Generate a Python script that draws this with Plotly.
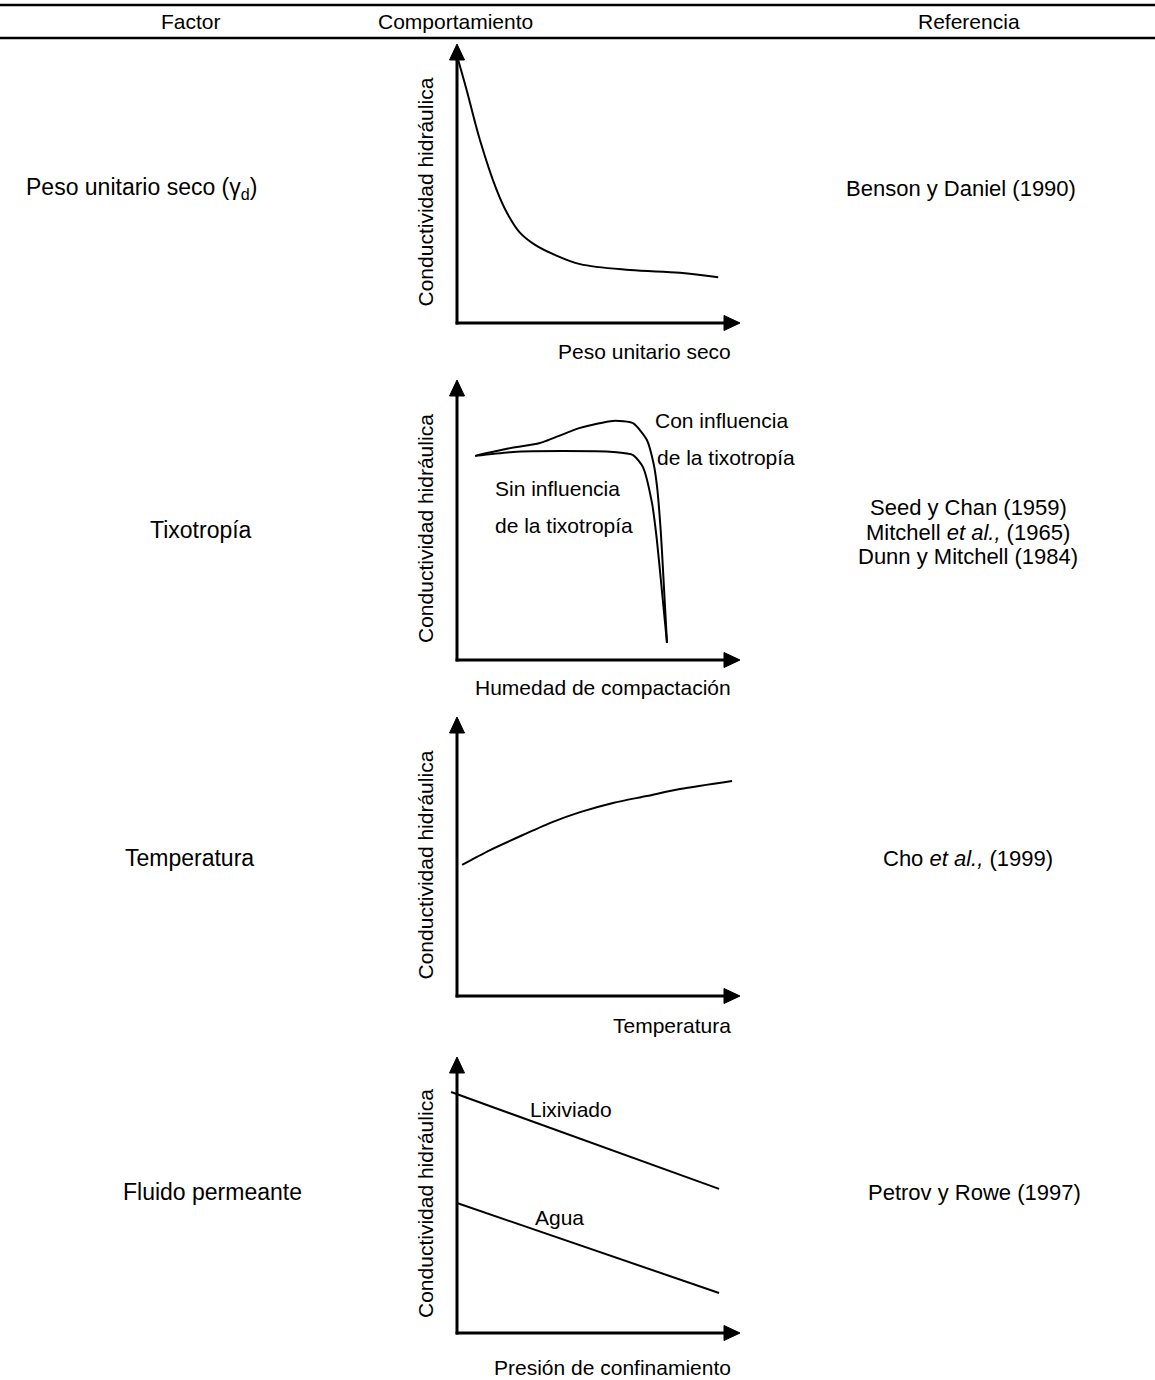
import plotly.graph_objects as go

W, H = 1155, 1380

# ---------------- data (relative units, axes 0..10) ----------------
dens_x = [0.01, 0.34, 0.81, 1.40, 1.77, 2.23, 2.76, 3.46, 4.35, 6.11, 7.88, 9.23]
dens_k = [9.54, 8.35, 6.56, 4.77, 3.94, 3.23, 2.80, 2.44, 2.11, 1.90, 1.80, 1.64]

tixo_x_con = [0.64, 1.8, 2.93, 4.35, 5.51, 6.22, 6.71, 6.95, 7.07, 7.2, 7.28, 7.42]
tixo_k_con = [7.29, 7.55, 7.75, 8.29, 8.54, 8.46, 7.86, 7.0, 6.18, 4.6, 3.21, 0.61]
tixo_x_sin = [0.64, 1.98, 3.75, 5.51, 6.22, 6.57, 6.89, 7.05, 7.17, 7.42]
tixo_k_sin = [7.29, 7.43, 7.46, 7.43, 7.32, 6.89, 5.61, 4.4, 3.21, 0.61]

temp_x = [0.18, 1.17, 2.33, 3.39, 4.35, 5.51, 6.71, 7.88, 9.72]
temp_k = [4.70, 5.23, 5.77, 6.24, 6.59, 6.92, 7.17, 7.42, 7.71]

pres_x = [-0.21, 9.26]
pres_lix = [8.73, 5.22]
pres_x_agua = [0.0, 9.26]
pres_agua = [4.71, 1.45]

factors = ["Peso unitario seco (γ<sub>d</sub>)", "Tixotropía", "Temperatura", "Fluido permeante"]
references = [
    ["Benson y Daniel (1990)"],
    ["Seed y Chan (1959)", "Mitchell <i>et al.,</i> (1965)", "Dunn y Mitchell (1984)"],
    ["Cho <i>et al.,</i> (1999)"],
    ["Petrov y Rowe (1997)"],
]
x_titles = ["Peso unitario seco", "Humedad de compactación", "Temperatura", "Presión de confinamiento"]
y_title = "Conductividad hidráulica"
headers = ["Factor", "Comportamiento", "Referencia"]

# ---------------- layout geometry (pixels) ----------------
FONT = "Liberation Sans, Arial, sans-serif"
ORIG_X, TIP_X = 457, 740
charts = [  # (origin_y, tip_y)
    (323, 44),
    (660, 380),
    (996, 717),
    (1333, 1057),
]
XR = [-1, 10.5]
YR = [-1, 10.5]
HEAD_LEN, HEAD_HALF, AXIS_W = 16, 7.5, 3

def px(x):
    return x / W

def py(y):
    return 1 - y / H

fig = go.Figure()
layout = dict(
    width=W, height=H, margin=dict(l=0, r=0, t=0, b=0),
    paper_bgcolor="white", plot_bgcolor="rgba(0,0,0,0)",
    showlegend=False, font=dict(family=FONT, color="black"),
)
ux = (TIP_X - ORIG_X) / 10
xd = [px(ORIG_X + XR[0] * ux), px(ORIG_X + XR[1] * ux)]
shapes = []
for i, (oy, ty) in enumerate(charts, start=1):
    uy = (oy - ty) / 10
    yd = [py(oy - YR[0] * uy), py(oy - YR[1] * uy)]
    sx = "" if i == 1 else str(i)
    layout["xaxis" + sx] = dict(domain=xd, range=XR, visible=False, anchor="y" + sx)
    layout["yaxis" + sx] = dict(domain=yd, range=YR, visible=False, anchor="x" + sx)
    xr, yr = "x" + sx, "y" + sx
    ex, ey = 1.4 / ux, 1.4 / uy
    # axis lines
    shapes.append(dict(type="line", xref=xr, yref=yr, x0=-ex, y0=0, x1=10 - HEAD_LEN / ux + 0.1, y1=0,
                       line=dict(color="black", width=AXIS_W)))
    shapes.append(dict(type="line", xref=xr, yref=yr, x0=0, y0=-ey, x1=0, y1=10 - HEAD_LEN / uy + 0.1,
                       line=dict(color="black", width=AXIS_W)))
    # arrow heads
    hx, hy = HEAD_LEN / ux, HEAD_HALF / uy
    shapes.append(dict(type="path", xref=xr, yref=yr, fillcolor="black", line=dict(color="black", width=1),
                       path=f"M 10 0 L {10 - hx} {hy} L {10 - hx} {-hy} Z"))
    hx2, hy2 = HEAD_HALF / ux, HEAD_LEN / uy
    shapes.append(dict(type="path", xref=xr, yref=yr, fillcolor="black", line=dict(color="black", width=1),
                       path=f"M 0 10 L {-hx2} {10 - hy2} L {hx2} {10 - hy2} Z"))
# header rules
for y in [5, 38]:
    shapes.append(dict(type="line", xref="paper", yref="paper", x0=0, x1=1, y0=py(y), y1=py(y),
                       line=dict(color="black", width=2.5)))
layout["shapes"] = shapes
fig.update_layout(**layout)

line = dict(color="black", width=2)
fig.add_trace(go.Scatter(x=dens_x, y=dens_k, mode="lines", line=dict(shape="spline", smoothing=1.0, **line), xaxis="x", yaxis="y"))
fig.add_trace(go.Scatter(x=tixo_x_con, y=tixo_k_con, mode="lines", line=dict(shape="spline", smoothing=0.6, **line), xaxis="x2", yaxis="y2"))
fig.add_trace(go.Scatter(x=tixo_x_sin, y=tixo_k_sin, mode="lines", line=dict(shape="spline", smoothing=0.6, **line), xaxis="x2", yaxis="y2"))
fig.add_trace(go.Scatter(x=temp_x, y=temp_k, mode="lines", line=dict(shape="spline", smoothing=0.8, **line), xaxis="x3", yaxis="y3"))
fig.add_trace(go.Scatter(x=pres_x, y=pres_lix, mode="lines", line=line, xaxis="x4", yaxis="y4", cliponaxis=False))
fig.add_trace(go.Scatter(x=pres_x_agua, y=pres_agua, mode="lines", line=line, xaxis="x4", yaxis="y4"))

ann = []

def txt(t, x, y, size=21, xanchor="center", angle=0, align="center"):
    ann.append(dict(text=t, x=px(x), y=py(y), xref="paper", yref="paper", showarrow=False,
                    xanchor=xanchor, yanchor="middle", textangle=angle, align=align,
                    font=dict(family=FONT, size=size, color="black")))

# header
for t, x in zip(headers, [191, 455, 969]):
    txt(t, x, 22, size=21)

# factor labels
for t, (x, y) in zip(factors, [(141, 188), (201, 530), (189, 858), (212, 1192)]):
    txt(t, x, y, size=23)

# references
for lines, (x, y) in zip(references, [(961, 188), (968, 532), (968, 858), (975, 1192)]):
    n = len(lines)
    for k, t in enumerate(lines):
        txt(t, x, y + (k - (n - 1) / 2) * 25, size=22)

# axis titles
for t, (oy, ty), ly in zip(x_titles, charts, [352, 687, 1025, 1367]):
    txt(t, 733, ly, size=21, xanchor="right")
    txt(y_title, 425, (oy + ty) / 2 + 8, size=21, angle=-90)

# inner labels
txt("Con influencia", 653, 420, xanchor="left")
txt("de la tixotropía", 655, 457, xanchor="left")
txt("Sin influencia", 493, 488, xanchor="left")
txt("de la tixotropía", 493, 525, xanchor="left")
txt("Lixiviado", 528, 1109, xanchor="left")
txt("Agua", 533, 1217, xanchor="left")

fig.update_layout(annotations=ann)

fig.write_html("out.html", config={"displayModeBar": False},
               post_script="document.body.style.margin='0px';")
